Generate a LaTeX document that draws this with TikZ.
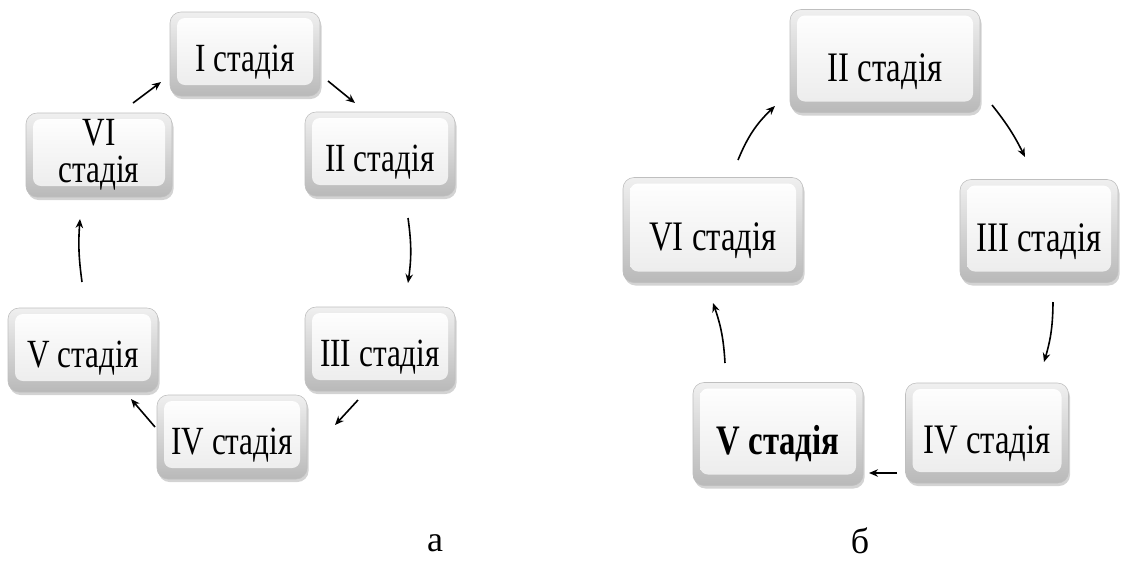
\documentclass[tikz,border=0pt]{standalone}
\usepackage{fontspec}
\setmainfont{Liberation Serif}[FakeStretch=0.78]
\newfontfamily\plainserif{Liberation Serif}
\usetikzlibrary{shadows,arrows.meta}
\tikzset{
  stbox/.style={rounded corners=11pt, draw=gray!50, line width=0.6pt,
    top color=gray!12, bottom color=gray!55,
    drop shadow={shadow xshift=1.5pt, shadow yshift=-3pt, opacity=0.35},
    path picture={
      \shade[rounded corners=8pt, top color=white, bottom color=gray!16]
        ([shift={(7pt,-6pt)}]path picture bounding box.north west) rectangle
        ([shift={(-7pt,11pt)}]path picture bounding box.south east);
    },
    inner sep=0pt, align=center},
  onea/.style={text height=34pt, text depth=0pt},
  boxa/.style={stbox, minimum width=150pt, minimum height=84pt, font=\fontsize{40}{37}\selectfont},
  boxb/.style={stbox, text height=40pt, text depth=0pt, minimum height=103pt, font=\fontsize{42}{44}\selectfont},
  arr/.style={line width=1.6pt, -{Stealth[length=9pt,width=7.5pt]}},
  lbl/.style={font=\plainserif\fontsize{36}{38}\selectfont}
}
\begin{document}
\begin{tikzpicture}[x=1pt,y=-1pt]
\useasboundingbox (0,0) rectangle (1134,582);
% ---- diagram a ----
\node[boxa, onea] (aI)   at (245,54)  {I стадія};
\node[boxa, onea] (aII)  at (380,154) {II стадія};
\node[boxa, onea] (aIII) at (380,349) {III стадія};
\node[boxa, onea] (aIV)  at (232,437) {IV стадія};
\node[boxa, onea] (aV)   at (83,350)  {V стадія};
\node[boxa, minimum width=146pt] (aVI) at (99,155) {VI\\стадія};
\coordinate (a1s) at (133,103); \coordinate (a1e) at (161,82);
\coordinate (a2s) at (328,81);  \coordinate (a2e) at (355,103);
\coordinate (a3s) at (408,218); \coordinate (a3e) at (408,283);
\coordinate (a4s) at (358,400); \coordinate (a4e) at (335,425);
\coordinate (a5s) at (155,427); \coordinate (a5e) at (131,399);
\coordinate (a6s) at (82,282);  \coordinate (a6e) at (80,219);
\draw[arr] (a1s) -- (a1e);
\draw[arr] (a2s) -- (a2e);
\draw[arr] (a3s) to[bend left=8] (a3e);
\draw[arr] (a4s) -- (a4e);
\draw[arr] (a5s) -- (a5e);
\draw[arr] (a6s) to[bend left=6] (a6e);
% ---- diagram b ----
\node[boxb, minimum width=190pt] (bII)  at (885,61)  {II стадія};
\node[boxb, minimum width=158pt] (bIII) at (1039,231) {III стадія};
\node[boxb, minimum width=163pt, minimum height=100pt] (bIV) at (987,433) {IV стадія};
\node[boxb, minimum width=170pt, font=\fontsize{42}{44}\selectfont\bfseries] (bV) at (778,434) {V стадія};
\node[boxb, minimum width=180pt, minimum height=105pt] (bVI) at (713,230) {VI стадія};
\coordinate (b1s) at (738,160);  \coordinate (b1e) at (775,106);
\coordinate (b2s) at (992,105);  \coordinate (b2e) at (1025,157);
\coordinate (b3s) at (1053,302); \coordinate (b3e) at (1044,362);
\coordinate (b4s) at (897,473);  \coordinate (b4e) at (869,473);
\coordinate (b5s) at (725,363);  \coordinate (b5e) at (713,303);
\draw[arr] (b1s) to[bend left=12] (b1e);
\draw[arr] (b2s) to[bend left=6] (b2e);
\draw[arr] (b3s) to[bend left=8] (b3e);
\draw[arr] (b4s) -- (b4e);
\draw[arr] (b5s) to[bend right=8] (b5e);
% labels
\node[lbl] (la) at (435,543) {а};
\node[lbl] (lb) at (860,541) {б};
\end{tikzpicture}
\end{document}
